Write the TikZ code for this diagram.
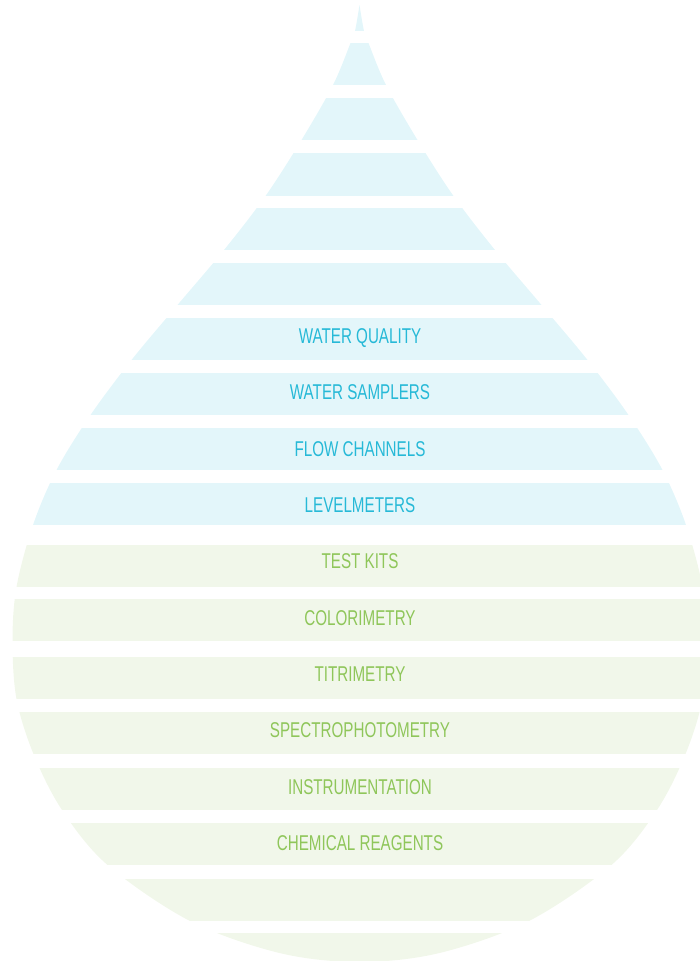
\documentclass[tikz,border=0pt]{standalone}
\usepackage{fontspec}
\setmainfont{Liberation Sans}[FakeStretch=0.71]
\definecolor{bluefill}{RGB}{227,246,250}
\definecolor{greenfill}{RGB}{241,247,234}
\definecolor{bluetxt}{RGB}{38,185,215}
\definecolor{greentxt}{RGB}{143,198,90}
\begin{document}
\begin{tikzpicture}[x=1pt,y=-1pt,
  lbl/.style={anchor=base,inner sep=0pt,font=\fontsize{21.4}{21.4}\selectfont},
  bluelbl/.style={lbl,text=bluetxt},
  greenlbl/.style={lbl,text=greentxt}]
\useasboundingbox (0,0) rectangle (699,961);
\begin{scope}
\clip plot[smooth,tension=0.55] coordinates {
(359.5,5) (364,31) (368.5,43) (386,85) (417.5,140) (453.5,196) (495,250)
(541.5,305) (587.5,360) (628.5,415) (662.5,470) (686,525) (702.5,587)
(706.5,641) (702.5,699) (685.5,754) (657,810) (611.5,865) (529,921)
(439.5,953) (359.5,962)
(279.5,953) (190,921) (107.5,865) (62,810) (33.5,754) (16.5,699)
(12.5,641) (16.5,587) (33,525) (56.5,470) (90.5,415) (131.5,360)
(177.5,305) (224,250) (265.5,196) (301.5,140) (333,85) (350.5,43)
(355,31) (359.5,5)} -- cycle;
\foreach \a/\b in {0/31,43/85,98/140,153/196,208/250,263/305,318/360,373/415,428/470,483/525}
  \fill[bluefill] (0,\a) rectangle (720,\b);
\foreach \a/\b in {545/587,599/641,657/699,712/754,768/810,823/865,879/921,933/980}
  \fill[greenfill] (0,\a) rectangle (720,\b);
\end{scope}
\node[bluelbl] (wq) at (360,343.4) {WATER QUALITY};
\node[bluelbl] (ws) at (360,399.8) {WATER SAMPLERS};
\node[bluelbl] (fc) at (360,456.1) {FLOW CHANNELS};
\node[bluelbl] (lm) at (360,512.5) {LEVELMETERS};
\node[greenlbl] (tk) at (360,568.9) {TEST KITS};
\node[greenlbl] (co) at (360,625.2) {COLORIMETRY};
\node[greenlbl] (ti) at (360,681.6) {TITRIMETRY};
\node[greenlbl] (sp) at (360,737.9) {SPECTROPHOTOMETRY};
\node[greenlbl] (in) at (360,794.3) {INSTRUMENTATION};
\node[greenlbl] (cr) at (360,850.6) {CHEMICAL REAGENTS};
\end{tikzpicture}
\end{document}
